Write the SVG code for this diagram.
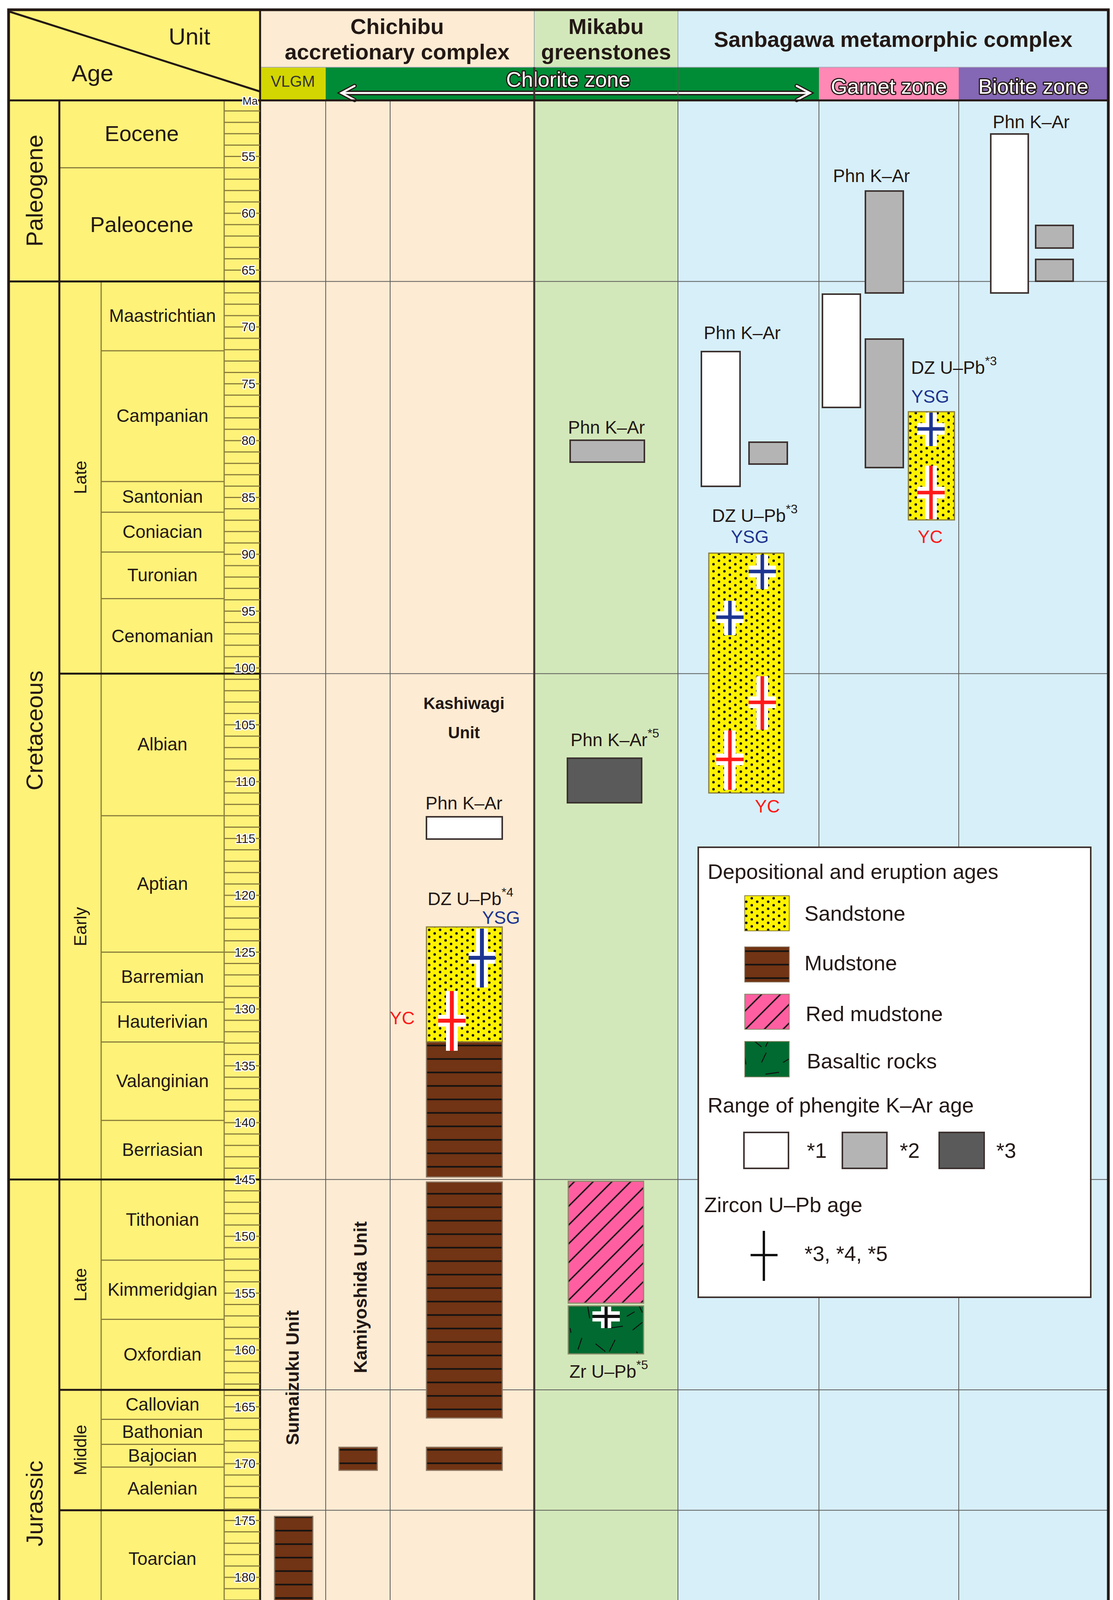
<svg xmlns="http://www.w3.org/2000/svg" width="2850" height="4709" viewBox="0 0 2850 4709">
<style>
text{font-family:"Liberation Sans",Arial,sans-serif;fill:#231815}
.hd{font-size:56px;font-weight:bold;text-anchor:middle}
.st{font-size:46px;text-anchor:middle}
.ep{font-size:44px;text-anchor:middle}
.pe{font-size:60px;text-anchor:middle}
.rl{font-size:32px;text-anchor:end;stroke:#fff;stroke-width:6px;paint-order:stroke;stroke-linejoin:round}
.an{font-size:46px}
.sup{font-size:32px}
.zn{font-size:54px;text-anchor:middle;fill:#fff;stroke:#231815;stroke-width:6px;paint-order:stroke;stroke-linejoin:round}
.lg{font-size:54px}
.ysg{font-size:46px;fill:#1d3591;text-anchor:middle}
.yc{font-size:46px;fill:#ff1a1a;text-anchor:middle}
.sl{stroke:#8a7d3c;stroke-width:3}
.tk{stroke:#8a7d3c;stroke-width:3}
.gl{stroke:#5a5a5a;stroke-width:2}
.bx{stroke:#3d3230;stroke-width:4}
.sd{fill:url(#sand);stroke:#8a7d3c;stroke-width:3}
.md{fill:url(#mud);stroke:#8a7460;stroke-width:3}
.cw{stroke:#fff;stroke-width:30}
</style>
<defs>
<pattern id="sand" width="28" height="18" patternUnits="userSpaceOnUse">
<rect width="28" height="18" fill="#fff200"/>
<circle cx="7" cy="4.5" r="3.2" fill="#111"/>
<circle cx="21" cy="13.5" r="3.2" fill="#111"/>
</pattern>
<pattern id="mud" width="40" height="34.5" patternUnits="userSpaceOnUse" y="3">
<rect width="40" height="34.5" fill="#713414"/>
<rect y="15" width="40" height="4" fill="#111"/>
</pattern>
<pattern id="red" width="34" height="10" patternUnits="userSpaceOnUse" patternTransform="rotate(45)">
<rect width="34" height="10" fill="#ff5fa0"/>
<line x1="17" y1="0" x2="17" y2="10" stroke="#111" stroke-width="3.5"/>
</pattern>
<pattern id="bas" width="200" height="130" patternUnits="userSpaceOnUse">
<rect width="200" height="130" fill="#006a30"/>
<g stroke="#111" stroke-width="2.5">
<line x1="20" y1="25" x2="45" y2="5"/><line x1="160" y1="20" x2="195" y2="15"/>
<line x1="90" y1="45" x2="80" y2="75"/><line x1="125" y1="60" x2="150" y2="80"/>
<line x1="30" y1="80" x2="45" y2="110"/><line x1="175" y1="50" x2="160" y2="80"/>
<line x1="5" y1="120" x2="25" y2="108"/><line x1="105" y1="95" x2="110" y2="125"/>
<line x1="150" y1="120" x2="162" y2="95"/><line x1="60" y1="20" x2="62" y2="32"/>
</g>
</pattern>
</defs>

<!-- column backgrounds -->
<g id="backgrounds">
<rect x="22" y="25" width="644" height="4653" fill="#fff279"/>
<rect x="666" y="25" width="702" height="4653" fill="#fdebd3"/>
<rect x="1368" y="25" width="368" height="4653" fill="#d3e8ba"/>
<rect x="1736" y="25" width="1102" height="4653" fill="#d7eff9"/>
</g>

<!-- header -->
<g id="header">
<line x1="25" y1="30" x2="665" y2="234" stroke="#231815" stroke-width="5"/>
<text x="485" y="114" style="font-size:60px;text-anchor:middle">Unit</text>
<text x="237" y="208" style="font-size:60px;text-anchor:middle">Age</text>
<text class="hd" x="1017" y="87">Chichibu</text>
<text class="hd" x="1017" y="152">accretionary complex</text>
<text class="hd" x="1552" y="87">Mikabu</text>
<text class="hd" x="1552" y="152">greenstones</text>
<text class="hd" x="2287" y="120">Sanbagawa metamorphic complex</text>
<line x1="1368" y1="25" x2="1368" y2="172" stroke="#9aa" stroke-width="2"/>
<line x1="1736" y1="25" x2="1736" y2="172" stroke="#9aa" stroke-width="2"/>
</g>

<g id="zonebar">
<rect x="666" y="172" width="168" height="85" fill="#d3d600"/>
<rect x="834" y="172" width="1263" height="85" fill="#008c36"/>
<rect x="2097" y="172" width="358" height="85" fill="#ff88b4"/>
<rect x="2455" y="172" width="383" height="85" fill="#8467b5"/>
<line x1="666" y1="172" x2="2838" y2="172" stroke="#aab" stroke-width="2"/>
<text x="750" y="222" style="font-size:40px;text-anchor:middle;fill:#333">VLGM</text>
<text class="zn" x="1455" y="222">Chlorite zone</text>
<text class="zn" x="2276" y="240">Garnet zone</text>
<text class="zn" x="2646" y="240">Biotite zone</text>
<g fill="none" stroke-linecap="round" stroke-linejoin="miter">
<line x1="880" y1="238" x2="2068" y2="238" stroke="#231815" stroke-width="12"/>
<polyline points="908,220 874,238 908,256" stroke="#231815" stroke-width="11"/>
<polyline points="2040,220 2074,238 2040,256" stroke="#231815" stroke-width="11"/>
<line x1="882" y1="238" x2="2066" y2="238" stroke="#fff" stroke-width="5"/>
<polyline points="908,220 874,238 908,256" stroke="#fff" stroke-width="5"/>
<polyline points="2040,220 2074,238 2040,256" stroke="#fff" stroke-width="5"/>
</g>
</g>

<!-- grid lines in data area -->
<g id="grid">
<line class="gl" x1="834" y1="257" x2="834" y2="4678"/>
<line class="gl" x1="999" y1="257" x2="999" y2="4678"/>
<line class="gl" x1="1736" y1="172" x2="1736" y2="4678" stroke-width="3"/>
<line class="gl" x1="2097" y1="257" x2="2097" y2="4678"/>
<line class="gl" x1="2455" y1="257" x2="2455" y2="4678"/>
<line class="gl" x1="666" y1="720.6" x2="2838" y2="720.6"/>
<line class="gl" x1="666" y1="1724.6" x2="2838" y2="1724.6"/>
<line class="gl" x1="666" y1="3019.5" x2="2838" y2="3019.5"/>
<line class="gl" x1="666" y1="3557.9" x2="2838" y2="3557.9"/>
<line class="gl" x1="666" y1="3866.3" x2="2838" y2="3866.3"/>
<line x1="1368" y1="172" x2="1368" y2="4678" stroke="#3d3230" stroke-width="5"/>
</g>

<!-- age column -->
<g id="age-column">
<g class="sl">
<line x1="152" y1="429.6" x2="574" y2="429.6"/>
<line x1="259" y1="898.1" x2="574" y2="898.1"/>
<line x1="259" y1="1232.8" x2="574" y2="1232.8"/>
<line x1="259" y1="1311.3" x2="574" y2="1311.3"/>
<line x1="259" y1="1413.2" x2="574" y2="1413.2"/>
<line x1="259" y1="1532.5" x2="574" y2="1532.5"/>
<line x1="259" y1="2088.3" x2="574" y2="2088.3"/>
<line x1="259" y1="2437.5" x2="574" y2="2437.5"/>
<line x1="259" y1="2565.5" x2="574" y2="2565.5"/>
<line x1="259" y1="2667.4" x2="574" y2="2667.4"/>
<line x1="259" y1="2868.2" x2="574" y2="2868.2"/>
<line x1="259" y1="3226.1" x2="574" y2="3226.1"/>
<line x1="259" y1="3377.4" x2="574" y2="3377.4"/>
<line x1="259" y1="3633.5" x2="574" y2="3633.5"/>
<line x1="259" y1="3697.5" x2="574" y2="3697.5"/>
<line x1="259" y1="3755.7" x2="574" y2="3755.7"/>
<line x1="259" y1="4116.6" x2="574" y2="4116.6"/>
<line x1="259" y1="4352.3" x2="574" y2="4352.3"/>
<line x1="259" y1="4599.6" x2="574" y2="4599.6"/>
<line x1="574" y1="257" x2="574" y2="4678"/>
<line x1="259" y1="720.6" x2="259" y2="4678"/>
</g>
<g stroke="#231815" stroke-width="5">
<line x1="152" y1="257" x2="152" y2="4678"/>
<line x1="22" y1="720.6" x2="666" y2="720.6"/>
<line x1="22" y1="3019.5" x2="666" y2="3019.5"/>
<line x1="152" y1="1724.6" x2="666" y2="1724.6"/>
<line x1="152" y1="3557.9" x2="666" y2="3557.9"/>
<line x1="152" y1="3866.3" x2="666" y2="3866.3"/>
<line x1="22" y1="257" x2="2838" y2="257"/>
<line x1="666" y1="25" x2="666" y2="4678"/>
</g>
<text class="st" x="363" y="342" dy="19" style="font-size:56px">Eocene</text>
<text class="st" x="363" y="575" dy="19" style="font-size:56px">Paleocene</text>
<g class="st">
<text x="416" y="824">Maastrichtian</text>
<text x="416" y="1080">Campanian</text>
<text x="416" y="1287">Santonian</text>
<text x="416" y="1377">Coniacian</text>
<text x="416" y="1488">Turonian</text>
<text x="416" y="1644">Cenomanian</text>
<text x="416" y="1921">Albian</text>
<text x="416" y="2278">Aptian</text>
<text x="416" y="2516">Barremian</text>
<text x="416" y="2631">Hauterivian</text>
<text x="416" y="2783">Valanginian</text>
<text x="416" y="2959">Berriasian</text>
<text x="416" y="3138">Tithonian</text>
<text x="416" y="3317">Kimmeridgian</text>
<text x="416" y="3483">Oxfordian</text>
<text x="416" y="3611">Callovian</text>
<text x="416" y="3681">Bathonian</text>
<text x="416" y="3742">Bajocian</text>
<text x="416" y="3826">Aalenian</text>
<text x="416" y="4006">Toarcian</text>
<text x="416" y="4249">Pliensbachian</text>
<text x="416" y="4491">Sinemurian</text>
<text x="416" y="4654">Hettangian</text>
</g>
<text class="ep" transform="translate(206,1222) rotate(-90)" dy="15">Late</text>
<text class="ep" transform="translate(206,2372) rotate(-90)" dy="15">Early</text>
<text class="ep" transform="translate(206,3289) rotate(-90)" dy="15">Late</text>
<text class="ep" transform="translate(206,3712) rotate(-90)" dy="15">Middle</text>
<text class="ep" transform="translate(206,4272) rotate(-90)" dy="15">Early</text>
<text class="pe" transform="translate(88,488) rotate(-90)" dy="21">Paleogene</text>
<text class="pe" transform="translate(88,1870) rotate(-90)" dy="21">Cretaceous</text>
<text class="pe" transform="translate(88,3849) rotate(-90)" dy="21">Jurassic</text>
</g>

<!-- ruler -->
<g id="ruler">
<g class="tk">
<line x1="574" y1="284.1" x2="666" y2="284.1"/><line x1="574" y1="313.2" x2="666" y2="313.2"/><line x1="574" y1="342.3" x2="666" y2="342.3"/><line x1="574" y1="371.4" x2="666" y2="371.4"/><line x1="574" y1="400.5" x2="666" y2="400.5"/>
<line x1="574" y1="429.6" x2="666" y2="429.6"/><line x1="574" y1="458.7" x2="666" y2="458.7"/><line x1="574" y1="487.8" x2="666" y2="487.8"/><line x1="574" y1="516.9" x2="666" y2="516.9"/><line x1="574" y1="546" x2="666" y2="546"/>
<line x1="574" y1="575.1" x2="666" y2="575.1"/><line x1="574" y1="604.2" x2="666" y2="604.2"/><line x1="574" y1="633.3" x2="666" y2="633.3"/><line x1="574" y1="662.4" x2="666" y2="662.4"/><line x1="574" y1="691.5" x2="666" y2="691.5"/>
</g>
<path class="tk" fill="none" d="M574 749.7H666M574 778.8H666M574 807.9H666M574 837H666M574 866.1H666M574 895.2H666M574 924.3H666M574 953.4H666M574 982.5H666M574 1011.6H666M574 1040.7H666M574 1069.8H666M574 1098.9H666M574 1128H666M574 1157.1H666M574 1186.2H666M574 1215.3H666M574 1244.4H666M574 1273.5H666M574 1302.6H666M574 1331.7H666M574 1360.8H666M574 1389.9H666M574 1419H666M574 1448.1H666M574 1477.2H666M574 1506.3H666M574 1535.4H666M574 1564.5H666M574 1593.6H666M574 1622.7H666M574 1651.8H666M574 1680.9H666M574 1710H666M574 1739.1H666M574 1768.2H666M574 1797.3H666M574 1826.4H666M574 1855.5H666M574 1884.6H666M574 1913.7H666M574 1942.8H666M574 1971.9H666M574 2001H666M574 2030.1H666M574 2059.2H666M574 2088.3H666M574 2117.4H666M574 2146.5H666M574 2175.6H666M574 2204.7H666M574 2233.8H666M574 2262.9H666M574 2292H666M574 2321.1H666M574 2350.2H666M574 2379.3H666M574 2408.4H666M574 2437.5H666M574 2466.6H666M574 2495.7H666M574 2524.8H666M574 2553.9H666M574 2583H666M574 2612.1H666M574 2641.2H666M574 2670.3H666M574 2699.4H666M574 2728.5H666M574 2757.6H666M574 2786.7H666M574 2815.8H666M574 2844.9H666M574 2874H666M574 2903.1H666M574 2932.2H666M574 2961.3H666M574 2990.4H666M574 3048.6H666M574 3077.7H666M574 3106.8H666M574 3135.9H666M574 3165H666M574 3194.1H666M574 3223.2H666M574 3252.3H666M574 3281.4H666M574 3310.5H666M574 3339.6H666M574 3368.7H666M574 3397.8H666M574 3426.9H666M574 3456H666M574 3485.1H666M574 3514.2H666M574 3543.3H666M574 3572.4H666M574 3601.5H666M574 3630.6H666M574 3659.7H666M574 3688.8H666M574 3717.9H666M574 3747H666M574 3776.1H666M574 3805.2H666M574 3834.3H666M574 3863.4H666M574 3892.5H666M574 3921.6H666M574 3950.7H666M574 3979.8H666M574 4008.9H666M574 4038H666M574 4067.1H666M574 4096.2H666M574 4125.3H666M574 4154.4H666M574 4183.5H666M574 4212.6H666M574 4241.7H666M574 4270.8H666M574 4299.9H666M574 4329H666M574 4358.1H666M574 4387.2H666M574 4416.3H666M574 4445.4H666M574 4474.5H666M574 4503.6H666M574 4532.7H666M574 4561.8H666M574 4590.9H666M574 4620H666M574 4649.1H666"/>
<g class="rl">
<text x="660" y="268" style="font-size:28px">Ma</text>
<text x="654" y="411.5">55</text><text x="654" y="557">60</text><text x="654" y="702.5">65</text><text x="654" y="848">70</text><text x="654" y="993.5">75</text>
<text x="654" y="1139">80</text><text x="654" y="1284.5">85</text><text x="654" y="1430">90</text><text x="654" y="1575.5">95</text><text x="654" y="1721">100</text>
<text x="654" y="1866.5">105</text><text x="654" y="2012">110</text><text x="654" y="2157.5">115</text><text x="654" y="2303">120</text><text x="654" y="2448.5">125</text>
<text x="654" y="2594">130</text><text x="654" y="2739.5">135</text><text x="654" y="2885">140</text><text x="654" y="3030.5">145</text><text x="654" y="3176">150</text>
<text x="654" y="3321.5">155</text><text x="654" y="3467">160</text><text x="654" y="3612.5">165</text><text x="654" y="3758">170</text><text x="654" y="3903.5">175</text>
<text x="654" y="4049">180</text><text x="654" y="4194.5">185</text><text x="654" y="4340">190</text><text x="654" y="4485.5">195</text><text x="654" y="4631">200</text>
</g>
</g>

<!-- Chichibu -->
<g id="sumaizuku-unit">
<text transform="translate(749,3527) rotate(-90)" dy="16" style="font-size:46px;font-weight:bold;text-anchor:middle">Sumaizuku Unit</text>
<rect class="md" x="703" y="3882" width="98" height="345"/>
</g>
<g id="kamiyoshida-unit">
<text transform="translate(923,3321) rotate(-90)" dy="16" style="font-size:46px;font-weight:bold;text-anchor:middle">Kamiyoshida Unit</text>
<rect class="md" x="868" y="3705" width="98" height="59"/>
</g>
<g id="kashiwagi-unit">
<text x="1188" y="1815" style="font-size:42px;font-weight:bold;text-anchor:middle">Kashiwagi</text>
<text x="1188" y="1890" style="font-size:42px;font-weight:bold;text-anchor:middle">Unit</text>
<text class="an" x="1188" y="2072" text-anchor="middle">Phn K–Ar</text>
<rect class="bx" x="1092" y="2091" width="194" height="57" fill="#fff"/>
<text class="an" x="1095" y="2317">DZ U–Pb<tspan class="sup" dy="-22">*4</tspan></text>
<text class="ysg" x="1283" y="2365">YSG</text>
<text class="yc" x="1030" y="2622">YC</text>
<rect class="md" x="1092" y="2667" width="194" height="346"/>
<rect class="sd" x="1092" y="2373" width="194" height="294"/>
<rect class="md" x="1092" y="3026" width="194" height="604"/>
<rect class="md" x="1092" y="3705" width="194" height="59"/>
<line class="cw" x1="1234" y1="2377" x2="1234" y2="2528"/>
<line class="cw" x1="1200" y1="2452" x2="1268" y2="2452"/>
<line x1="1234" y1="2377" x2="1234" y2="2528" stroke="#1d3591" stroke-width="10"/>
<line x1="1200" y1="2452" x2="1268" y2="2452" stroke="#1d3591" stroke-width="10"/>
<line class="cw" x1="1157" y1="2537" x2="1157" y2="2690"/>
<line class="cw" x1="1122" y1="2613" x2="1192" y2="2613"/>
<line x1="1157" y1="2537" x2="1157" y2="2690" stroke="#ff1a1a" stroke-width="10"/>
<line x1="1122" y1="2613" x2="1192" y2="2613" stroke="#ff1a1a" stroke-width="10"/>
</g>

<!-- Mikabu -->
<g id="mikabu">
<text class="an" x="1553" y="1110" text-anchor="middle">Phn K–Ar</text>
<rect class="bx" x="1460" y="1127" width="190" height="56" fill="#b4b4b4"/>
<text class="an" x="1461" y="1910">Phn K–Ar<tspan class="sup" dy="-22">*5</tspan></text>
<rect class="bx" x="1453" y="1941" width="190" height="114" fill="#5a5a5a"/>
<rect x="1455" y="3024" width="193" height="312" fill="url(#red)" stroke="#8a8a6a" stroke-width="3"/>
<rect x="1455" y="3343" width="193" height="123" fill="url(#bas)" stroke="#8a8a6a" stroke-width="3"/>
<line x1="1552" y1="3345" x2="1552" y2="3400" stroke="#fff" stroke-width="26"/>
<line x1="1517" y1="3370" x2="1587" y2="3370" stroke="#fff" stroke-width="26"/>
<line x1="1552" y1="3345" x2="1552" y2="3400" stroke="#111" stroke-width="8"/>
<line x1="1517" y1="3370" x2="1587" y2="3370" stroke="#111" stroke-width="8"/>
<text class="an" x="1458" y="3527">Zr U–Pb<tspan class="sup" dy="-22">*5</tspan></text>
</g>

<!-- Sanbagawa chlorite zone -->
<g id="sanbagawa-chlorite">
<text class="an" x="1802" y="868">Phn K–Ar</text>
<rect class="bx" x="1796" y="900" width="99" height="345" fill="#fff"/>
<rect class="bx" x="1918" y="1132" width="98" height="56" fill="#b4b4b4"/>
<text class="an" x="1823" y="1336">DZ U–Pb<tspan class="sup" dy="-22">*3</tspan></text>
<text class="ysg" x="1920" y="1390">YSG</text>
<rect class="sd" x="1815" y="1416" width="192" height="614"/>
<line class="cw" x1="1952" y1="1420" x2="1952" y2="1508"/>
<line class="cw" x1="1917" y1="1463" x2="1987" y2="1463"/>
<line x1="1952" y1="1420" x2="1952" y2="1508" stroke="#1d3591" stroke-width="9"/>
<line x1="1917" y1="1463" x2="1987" y2="1463" stroke="#1d3591" stroke-width="9"/>
<line class="cw" x1="1869" y1="1538" x2="1869" y2="1626"/>
<line class="cw" x1="1834" y1="1580" x2="1904" y2="1580"/>
<line x1="1869" y1="1538" x2="1869" y2="1626" stroke="#1d3591" stroke-width="9"/>
<line x1="1834" y1="1580" x2="1904" y2="1580" stroke="#1d3591" stroke-width="9"/>
<line class="cw" x1="1952" y1="1731" x2="1952" y2="1868"/>
<line class="cw" x1="1917" y1="1798" x2="1987" y2="1798"/>
<line x1="1952" y1="1731" x2="1952" y2="1868" stroke="#ff1a1a" stroke-width="9"/>
<line x1="1917" y1="1798" x2="1987" y2="1798" stroke="#ff1a1a" stroke-width="9"/>
<line class="cw" x1="1869" y1="1870" x2="1869" y2="2022"/>
<line class="cw" x1="1834" y1="1944" x2="1904" y2="1944"/>
<line x1="1869" y1="1870" x2="1869" y2="2022" stroke="#ff1a1a" stroke-width="9"/>
<line x1="1834" y1="1944" x2="1904" y2="1944" stroke="#ff1a1a" stroke-width="9"/>
<text class="yc" x="1965" y="2080">YC</text>
</g>

<!-- Sanbagawa garnet zone -->
<g id="sanbagawa-garnet">
<text class="an" x="2133" y="466">Phn K–Ar</text>
<rect class="bx" x="2216" y="489" width="97" height="261" fill="#b4b4b4"/>
<rect class="bx" x="2106" y="753" width="97" height="290" fill="#fff"/>
<rect class="bx" x="2216" y="868" width="97" height="329" fill="#b4b4b4"/>
<text class="an" x="2333" y="957">DZ U–Pb<tspan class="sup" dy="-22">*3</tspan></text>
<text class="ysg" x="2382" y="1031">YSG</text>
<rect class="sd" x="2326" y="1054" width="118" height="277"/>
<line class="cw" x1="2384" y1="1056" x2="2384" y2="1142"/>
<line class="cw" x1="2349" y1="1098" x2="2419" y2="1098"/>
<line x1="2384" y1="1056" x2="2384" y2="1142" stroke="#1d3591" stroke-width="9"/>
<line x1="2349" y1="1098" x2="2419" y2="1098" stroke="#1d3591" stroke-width="9"/>
<line class="cw" x1="2384" y1="1192" x2="2384" y2="1329"/>
<line class="cw" x1="2349" y1="1261" x2="2419" y2="1261"/>
<line x1="2384" y1="1192" x2="2384" y2="1329" stroke="#ff1a1a" stroke-width="9"/>
<line x1="2349" y1="1261" x2="2419" y2="1261" stroke="#ff1a1a" stroke-width="9"/>
<text class="yc" x="2382" y="1390">YC</text>
</g>

<!-- Sanbagawa biotite zone -->
<g id="sanbagawa-biotite">
<text class="an" x="2542" y="328">Phn K–Ar</text>
<rect class="bx" x="2537" y="343" width="96" height="407" fill="#fff"/>
<rect class="bx" x="2652" y="577" width="96" height="58" fill="#b4b4b4"/>
<rect class="bx" x="2652" y="664" width="96" height="56" fill="#b4b4b4"/>
</g>

<!-- legend -->
<g id="legend">
<rect x="1788" y="2169" width="1005" height="1152" fill="#fff" stroke="#3d3230" stroke-width="4"/>
<text class="lg" x="1812" y="2250">Depositional and eruption ages</text>
<rect x="1907" y="2293" width="114" height="90" fill="url(#sand)" stroke="#8a7d3c" stroke-width="2"/>
<text class="lg" x="2060" y="2357">Sandstone</text>
<rect x="1907" y="2424" width="114" height="90" fill="url(#mud)" stroke="#8a7460" stroke-width="2"/>
<text class="lg" x="2060" y="2484">Mudstone</text>
<rect x="1907" y="2545" width="114" height="90" fill="url(#red)" stroke="#8a8a6a" stroke-width="2"/>
<text class="lg" x="2063" y="2614">Red mudstone</text>
<rect x="1907" y="2666" width="114" height="91" fill="url(#bas)" stroke="#8a8a6a" stroke-width="2"/>
<text class="lg" x="2066" y="2735">Basaltic rocks</text>
<text class="lg" x="1812" y="2848">Range of phengite K–Ar age</text>
<rect class="bx" x="1905" y="2899" width="114" height="92" fill="#fff"/>
<text class="lg" x="2066" y="2964">*1</text>
<rect class="bx" x="2157" y="2899" width="114" height="92" fill="#b4b4b4"/>
<text class="lg" x="2304" y="2964">*2</text>
<rect class="bx" x="2405" y="2899" width="115" height="92" fill="#5a5a5a"/>
<text class="lg" x="2551" y="2964">*3</text>
<text class="lg" x="1803" y="3103">Zircon U–Pb age</text>
<line x1="1956" y1="3151" x2="1956" y2="3279" stroke="#111" stroke-width="6"/>
<line x1="1922" y1="3213" x2="1991" y2="3213" stroke="#111" stroke-width="6"/>
<text class="lg" x="2060" y="3228">*3, *4, *5</text>
</g>

<!-- outer frame -->
<rect x="22" y="25" width="2816" height="4653" fill="none" stroke="#231815" stroke-width="7"/>
</svg>
